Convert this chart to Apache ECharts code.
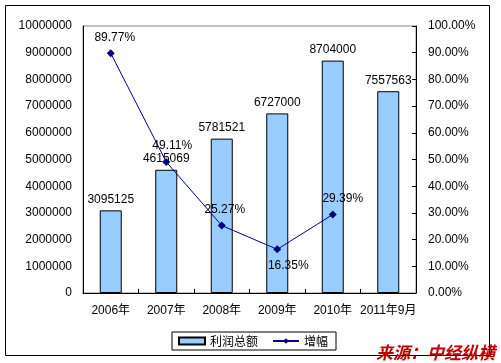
<!DOCTYPE html>
<html><head><meta charset="utf-8">
<script src="https://cdn.jsdelivr.net/npm/echarts@6/dist/echarts.min.js"></script>
<style>html,body{margin:0;padding:0;background:#fff}#c{width:501px;height:363px}</style>
</head><body><div id="c"></div>
<script>
const categories = ['2006年','2007年','2008年','2009年','2010年','2011年9月'];
const profitTotal = [3095125, 4615069, 5781521, 6727000, 8704000, 7557563];
const growthPct = [89.77, 49.11, 25.27, 16.35, 29.39, null];
const growthLabelPos = ['top','top','top','bottom','top',null];
const growthLabelDx = [4, 6, 3, 11, 10, 0];
const leftTicks = {min:0, max:10000000, interval:1000000};
const rightTicks = {min:0, max:100, interval:10};

const font = 'Liberation Sans, Arial, sans-serif';
const chart = echarts.init(document.getElementById('c'), null, {renderer:'canvas'});
chart.setOption({
  animation:false,
  textStyle:{fontFamily:font},
  grid:{left:83, right:85, top:26, bottom:70, show:true, borderColor:'#888', borderWidth:1},
  legend:{
    left:172, top:332, orient:'horizontal',
    borderColor:'#000', borderWidth:1, padding:[3,8,3,6], itemGap:14,
    itemWidth:26, itemHeight:7,
    textStyle:{fontFamily:'Noto Sans CJK SC', fontSize:12, color:'#000'},
    data:[{name:'利润总额', icon:'rect'}, {name:'增幅'}]
  },
  xAxis:{
    type:'category', data:categories,
    axisLine:{lineStyle:{color:'#000', width:1}},
    axisTick:{show:true, inside:true, length:4, lineStyle:{color:'#000'}},
    axisLabel:{color:'#000', fontSize:12, margin:12, fontFamily:'Liberation Sans, Noto Sans CJK SC, sans-serif', interval:0}
  },
  yAxis:[
    {type:'value', min:leftTicks.min, max:leftTicks.max, interval:leftTicks.interval,
     axisLine:{show:true, lineStyle:{color:'#000'}},
     axisTick:{show:false},
     splitLine:{show:false},
     axisLabel:{color:'#000', fontSize:12, margin:11, formatter:v=>String(v)}},
    {type:'value', min:rightTicks.min, max:rightTicks.max, interval:rightTicks.interval,
     axisLine:{show:true, lineStyle:{color:'#000'}},
     axisTick:{show:true, inside:true, length:4, lineStyle:{color:'#000'}},
     splitLine:{show:false},
     axisLabel:{color:'#000', fontSize:12, margin:12, formatter:v=>v.toFixed(2)+'%'}}
  ],
  series:[
    {name:'利润总额', type:'bar', data:profitTotal, barWidth:22,
     itemStyle:{color:'#99ccff', borderColor:'#000', borderWidth:1},
     label:{show:true, position:'top', distance:5, color:'#000', fontSize:12}},
    {name:'增幅', type:'line', yAxisIndex:1,
     data:growthPct.map((v,i)=>({value:v, label:{position:growthLabelPos[i]||'top', offset:[growthLabelDx[i],0]}})),
     symbol:'diamond', symbolSize:8,
     lineStyle:{color:'#000080', width:1},
     itemStyle:{color:'#000080'},
     label:{show:true, color:'#000', fontSize:12, distance:6, formatter:p=>p.value.toFixed(2)+'%'}}
  ],
  graphic:[
    {type:'rect', shape:{x:5.5, y:5.5, width:484, height:350}, style:{fill:'none', stroke:'#000', lineWidth:1}, z:-1},
    {type:'text', right:6, bottom:2, style:{text:'来源：中经纵横', fill:'#c00000', font:'italic bold 17px "Noto Sans CJK SC"'}, z:10}
  ]
});
</script></body></html>
